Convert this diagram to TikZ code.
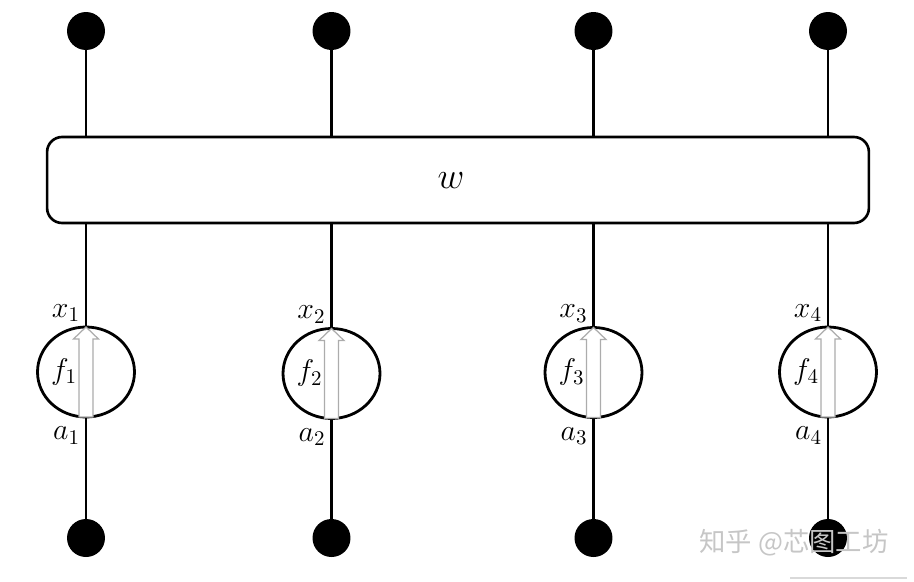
\RequirePackage{fix-cm}
\documentclass[tikz,border=0pt]{standalone}
\usepackage{fontspec}
\newfontfamily\cjk{Noto Sans CJK SC}
\usetikzlibrary{positioning,shapes.geometric}

\begin{document}
\begin{tikzpicture}
  [x=0.02cm,y=-0.02cm,
   dot/.style={circle,fill=black,minimum size=0.76cm,inner sep=0pt},
   unit/.style={ellipse,draw,line width=1.6pt,minimum width=1.94cm,minimum height=1.8cm,inner sep=0pt,outer sep=0pt},
   wire/.style={line width=1.3pt},
   flow/.style={draw=gray!65,fill=white,line width=0.7pt,line join=miter},
   lbl/.style={font=\fontsize{17}{20}\selectfont,inner sep=1pt}]
  \useasboundingbox (0,0) rectangle (914,582);

  % weight block
  \node[rectangle,draw,line width=1.5pt,rounded corners=0.3cm,minimum width=16.44cm,minimum height=1.72cm] (w) at (458,180) {};
  \node[font=\fontsize{21}{24}\selectfont] (wl) at (451,181) {$w$};

  % outputs
  \node[dot] (t1) at (86,31) {};
  \node[dot] (t2) at (331.5,31) {};
  \node[dot] (t3) at (593.5,31) {};
  \node[dot] (t4) at (828,31) {};

  % neurons
  \node[unit] (f1) at (86,372) {};
  \node[unit] (f2) at (331.5,373.5) {};
  \node[unit] (f3) at (593.5,372.5) {};
  \node[unit] (f4) at (828,372) {};

  % inputs
  \node[dot] (b1) at (86,538) {};
  \node[dot] (b2) at (331.5,538) {};
  \node[dot] (b3) at (593.5,538) {};
  \node[dot] (b4) at (828,538) {};

  \draw[wire] (t1) -- (t1 |- w.north);
  \draw[wire] (t2) -- (t2 |- w.north);
  \draw[wire] (t3) -- (t3 |- w.north);
  \draw[wire] (t4) -- (t4 |- w.north);

  \draw[wire] (f1 |- w.south) -- (f1);
  \draw[wire] (f2 |- w.south) -- (f2);
  \draw[wire] (f3 |- w.south) -- (f3);
  \draw[wire] (f4 |- w.south) -- (f4);

  \draw[wire] (f1) -- (b1);
  \draw[wire] (f2) -- (b2);
  \draw[wire] (f3) -- (b3);
  \draw[wire] (f4) -- (b4);

  % hollow arrows a -> x
  \draw[flow] (f1.south) -- ++(-7,0) -- ++(0,-78) -- ++(-5.5,0) -- (f1.north) -- ++(12.5,12) -- ++(-5.5,0) -- ++(0,78) -- cycle;
  \draw[flow] (f2.south) -- ++(-7,0) -- ++(0,-78) -- ++(-5.5,0) -- (f2.north) -- ++(12.5,12) -- ++(-5.5,0) -- ++(0,78) -- cycle;
  \draw[flow] (f3.south) -- ++(-7,0) -- ++(0,-78) -- ++(-5.5,0) -- (f3.north) -- ++(12.5,12) -- ++(-5.5,0) -- ++(0,78) -- cycle;
  \draw[flow] (f4.south) -- ++(-7,0) -- ++(0,-78) -- ++(-5.5,0) -- (f4.north) -- ++(12.5,12) -- ++(-5.5,0) -- ++(0,78) -- cycle;

  \node[lbl, above left=0.06cm and 0.08cm of f1.north] (x1) {$x_1$};
  \node[lbl, above left=0.06cm and 0.08cm of f2.north] (x2) {$x_2$};
  \node[lbl, above left=0.06cm and 0.08cm of f3.north] (x3) {$x_3$};
  \node[lbl, above left=0.06cm and 0.08cm of f4.north] (x4) {$x_4$};

  \node[lbl, left=0.14cm of f1.center] (l1) {$f_1$};
  \node[lbl, left=0.14cm of f2.center] (l2) {$f_2$};
  \node[lbl, left=0.14cm of f3.center] (l3) {$f_3$};
  \node[lbl, left=0.14cm of f4.center] (l4) {$f_4$};

  \node[lbl, below left=0.16cm and 0.08cm of f1.south] (a1) {$a_1$};
  \node[lbl, below left=0.16cm and 0.08cm of f2.south] (a2) {$a_2$};
  \node[lbl, below left=0.16cm and 0.08cm of f3.south] (a3) {$a_3$};
  \node[lbl, below left=0.16cm and 0.08cm of f4.south] (a4) {$a_4$};

  % watermark
  \node[text=gray!45, font=\cjk\fontsize{15}{18}\selectfont] (wm) at (794,543) {知乎 @芯图工坊};
  \draw[gray!30, line width=0.6pt] (790,578) -- (907,578);
\end{tikzpicture}
\end{document}
